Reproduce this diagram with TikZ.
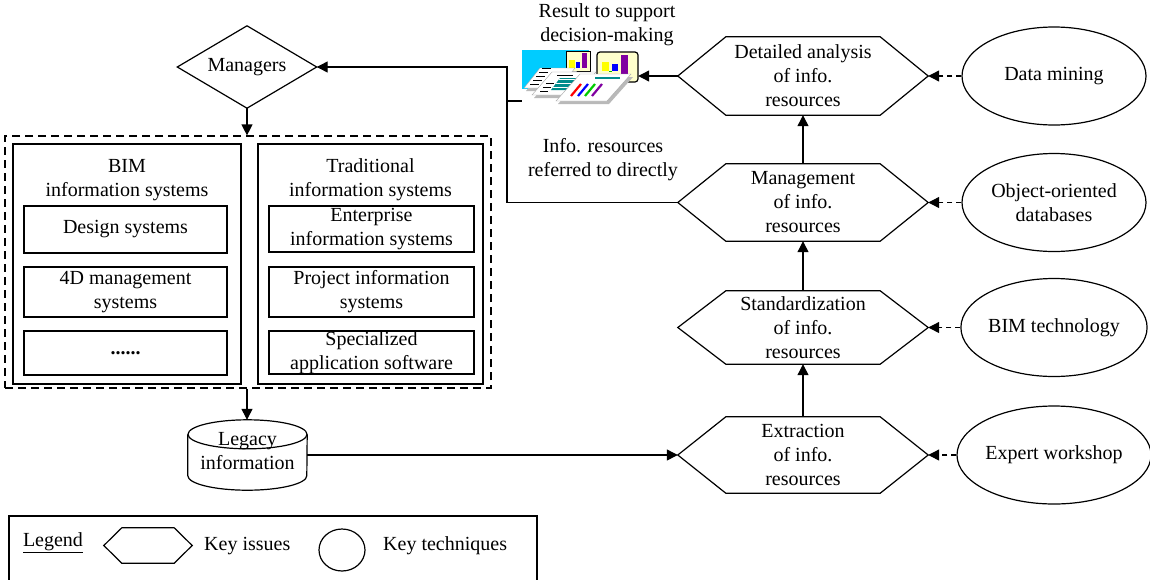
\documentclass[tikz,border=0pt]{standalone}
\usepackage{fontspec}
\setmainfont{Liberation Serif}
\usetikzlibrary{arrows.meta,calc,shapes.geometric}
\definecolor{iconcyan}{RGB}{0,204,255}
\definecolor{iconcream}{RGB}{255,255,204}
\definecolor{iconteal}{RGB}{0,140,140}
\definecolor{iconpurple}{RGB}{128,0,160}
\definecolor{iconyellow}{RGB}{255,255,0}
\definecolor{iconblue}{RGB}{0,0,255}
\newcommand{\hexof}[2]{%
  \draw[shapeline] (#1.west) -- ($(#1.north west)+(#2,0)$) -- ($(#1.north east)+(-#2,0)$) -- (#1.east) -- ($(#1.south east)+(-#2,0)$) -- ($(#1.south west)+(#2,0)$) -- cycle;}
\begin{document}
\begin{tikzpicture}[x=1pt,y=1pt,
  font=\fontsize{20}{24}\selectfont,
  shapeline/.style={line width=1.2pt, line join=miter},
  arr/.style={line width=1.2pt, -{Triangle[length=11pt,width=11pt]}},
  darr/.style={line width=1.2pt, dash pattern=on 5pt off 4pt, -{Triangle[length=11pt,width=11pt]}},
  plain/.style={line width=1.2pt},
  box/.style={draw, line width=1.2pt, inner sep=0pt, align=center},
  hexnode/.style={minimum width=250pt, inner sep=0pt, align=center},
  technode/.style={draw, ellipse, line width=1.2pt, minimum width=184pt, minimum height=98pt, inner sep=0pt, align=center},
  txt/.style={inner sep=0pt, align=center},
  sheet/.style={draw=gray!70, fill=white, line width=0.4pt},
  shadow/.style={fill=gray!55}]
\useasboundingbox (0,0) rectangle (1150,-579);

% ---------- Managers ----------
\node[minimum width=139pt, minimum height=82pt, inner sep=0pt] (mgr) at (247,-67) {Managers};
\draw[shapeline] (mgr.west) -- (mgr.north) -- (mgr.east) -- (mgr.south) -- cycle;

% ---------- Systems box ----------
\node[draw, line width=1.2pt, dash pattern=on 8pt off 5pt, minimum width=486pt, minimum height=252pt, inner sep=0pt] (sys) at (248,-262) {};
\node[box, minimum width=228pt, minimum height=240pt] (bim) at (127,-264) {};
\node[box, minimum width=225pt, minimum height=240pt] (trad) at (370.5,-264) {};
\node[txt] (bimh) at (127,-180) {BIM\\information systems};
\node[txt] (tradh) at (370.5,-180) {Traditional\\information systems};

\node[box, minimum width=203pt, minimum height=47pt] (des) at (125.5,-229.5) {Design systems};
\node[box, minimum width=203pt, minimum height=50pt] (fourd) at (125.5,-292) {4D management\\systems};
\node[box, minimum width=203pt, minimum height=44pt] (dots) at (125.5,-353) {\textbf{......}};

\node[box, minimum width=205pt, minimum height=46pt] (ent) at (371.5,-229) {Enterprise\\information systems};
\node[box, minimum width=205pt, minimum height=50pt] (proj) at (371.5,-292) {Project information\\systems};
\node[box, minimum width=205pt, minimum height=43pt] (spec) at (371.5,-352.5) {Specialized\\application software};

% ---------- Legacy information ----------
\node[minimum width=119pt, minimum height=70pt, inner sep=0pt] (leg) at (247.5,-455) {};
\draw[shapeline, fill=white] ($(leg.north west)+(0,-14.5)$) -- ($(leg.south west)+(0,14.5)$)
  arc[start angle=180, end angle=360, x radius=59.5, y radius=14.5] -- ($(leg.north east)+(0,-14.5)$);
\draw[shapeline] ($(leg.north)+(0,-14.5)$) ellipse[x radius=59.5, y radius=14.5];
\node[txt] (legt) at (247.5,-451) {Legacy\\information};

% ---------- Key issues (hexagons) ----------
\node[hexnode, minimum height=78pt] (det) at (803,-76) {Detailed analysis\\of info.\\resources};
\node[hexnode, minimum height=77pt] (mgmt) at (803,-202.5) {Management\\of info.\\resources};
\node[hexnode, minimum height=73pt] (std) at (803,-327.5) {Standardization\\of info.\\resources};
\node[hexnode, minimum height=76pt] (ext) at (803,-455) {Extraction\\of info.\\resources};
\foreach \n in {det,mgmt,std,ext} {\hexof{\n}{48}}

% ---------- Key techniques ----------
\node[technode] (dm) at (1054,-76) {Data mining};
\node[technode] (ood) at (1054,-202.5) {Object-oriented\\databases};
\node[technode] (bimt) at (1054,-327.5) {BIM technology};
\node[technode] (ew) at (1054,-455) {Expert workshop};

% ---------- Icon ----------
\node[minimum width=116pt, minimum height=52pt, inner sep=0pt] (icon) at (580,-76) {};
\begin{scope}
  \fill[iconcyan] (522,-50) rectangle (589,-89);
  % small chart
  \draw[fill=iconcream, line width=0.6pt] (566,-51) rectangle (590,-71);
  \fill[iconyellow] (569,-60) rectangle (575,-68);
  \fill[iconblue] (576,-62) rectangle (580,-68);
  \fill[iconpurple] (582,-53) rectangle (587,-68);
  % large chart
  \draw[fill=iconcream, line width=1.2pt, rounded corners=3pt] (597,-52) rectangle (638,-82);
  \fill[iconyellow] (602,-62) rectangle (609,-71);
  \fill[iconblue] (612,-64) rectangle (618,-71);
  \draw[green!70!black, line width=0.8pt] (609,-71) -- (612,-71);
  \fill[iconpurple] (621,-55) rectangle (628,-78);
  % sheets
  \fill[shadow] (526,-91) -- (542,-71) -- (577,-71) -- (561,-91) -- cycle;
  \draw[sheet] (524,-88) -- (540,-68) -- (575,-68) -- (559,-88) -- cycle;
  \foreach \k in {0,1,2,3,4} {\draw[black, line width=1pt] ({530+3*\k},{-84+4*\k}) -- ({539+3*\k},{-84+4*\k});}
  \fill[shadow] (534,-98) -- (554,-75) -- (598,-75) -- (578,-98) -- cycle;
  \draw[sheet] (532,-95) -- (552,-72) -- (596,-72) -- (576,-95) -- cycle;
  \foreach \k in {0,1,2} {\draw[black, line width=0.9pt] ({540+3*\k},{-91+4*\k}) -- ({548+3*\k},{-91+4*\k});}
  \fill[iconteal] (551,-90) -- (560,-78) -- (578,-78) -- (569,-90) -- cycle;
  \foreach \k in {0,1,2} {\draw[white, line width=0.6pt] ({553+3*\k},{-87+4*\k}) -- ({571+3*\k},{-87+4*\k});}
  \draw[black, line width=1pt] (557,-75) -- (573,-75);
  \fill[shadow] (558,-104) -- (582,-77) -- (633,-77) -- (609,-104) -- cycle;
  \draw[sheet] (556,-101) -- (580,-74) -- (631,-74) -- (607,-101) -- cycle;
  \draw[iconteal, line width=2.5pt] (595,-78) -- (620,-78);
  \draw[red, line width=2.2pt] (571,-96) -- (581,-84);
  \draw[iconblue, line width=2.2pt] (578,-96) -- (588,-84);
  \draw[green!80!black, line width=2.2pt] (585,-96) -- (595,-84);
  \draw[iconpurple, line width=2.2pt] (592,-96) -- (602,-84);
\end{scope}

% ---------- Labels ----------
\node[txt] (reslbl) at (607,-24.5) {Result to support\\decision-making};
\node[txt] (reflbl) at (603,-160) {Info. resources\\referred to directly};

% ---------- Connectors ----------
\coordinate (jx) at (507,0);
\coordinate (itick) at (522,-101);
\draw[arr] (mgr.south) -- (mgr.south |- sys.north);
\draw[arr] (sys.south -| mgr.south) -- (leg.north -| mgr.south);
\draw[arr] (leg.east) -- (ext.west);
\draw[arr] (ext.north) -- (std.south);
\draw[arr] (std.north) -- (mgmt.south);
\draw[arr] (mgmt.north) -- (det.south);
\draw[arr] (det.west) -- (icon.east);
\draw[arr] (mgmt.west) -| (jx |- mgr.east) -- (mgr.east);
\draw[plain] (jx |- itick) -- (itick);
\draw[darr] (dm.west) -- (det.east);
\draw[darr] (ood.west) -- (mgmt.east);
\draw[darr] (bimt.west) -- (std.east);
\draw[darr] (ew.west) -- (ext.east);

% ---------- Legend ----------
\coordinate (lgbl) at (9,-582);
\coordinate (lgtl) at (9,-516);
\coordinate (lgtr) at (537,-516);
\coordinate (lgbr) at (537,-582);
\draw[plain] (lgbl) -- (lgtl) -- (lgtr) -- (lgbr);
\node[txt] (lgname) at (53,-543) {\underline{Legend}};
\node[minimum width=88pt, minimum height=35pt, inner sep=0pt] (lghex) at (148,-545.5) {};
\hexof{lghex}{18}
\node[txt, anchor=west] (lgissues) at (204,-546) {Key issues};
\node[draw, ellipse, line width=1.2pt, minimum width=46pt, minimum height=42pt, inner sep=0pt] (lgcirc) at (342,-550) {};
\node[txt, anchor=west] (lgtech) at (383,-546) {Key techniques};
\end{tikzpicture}
\end{document}
